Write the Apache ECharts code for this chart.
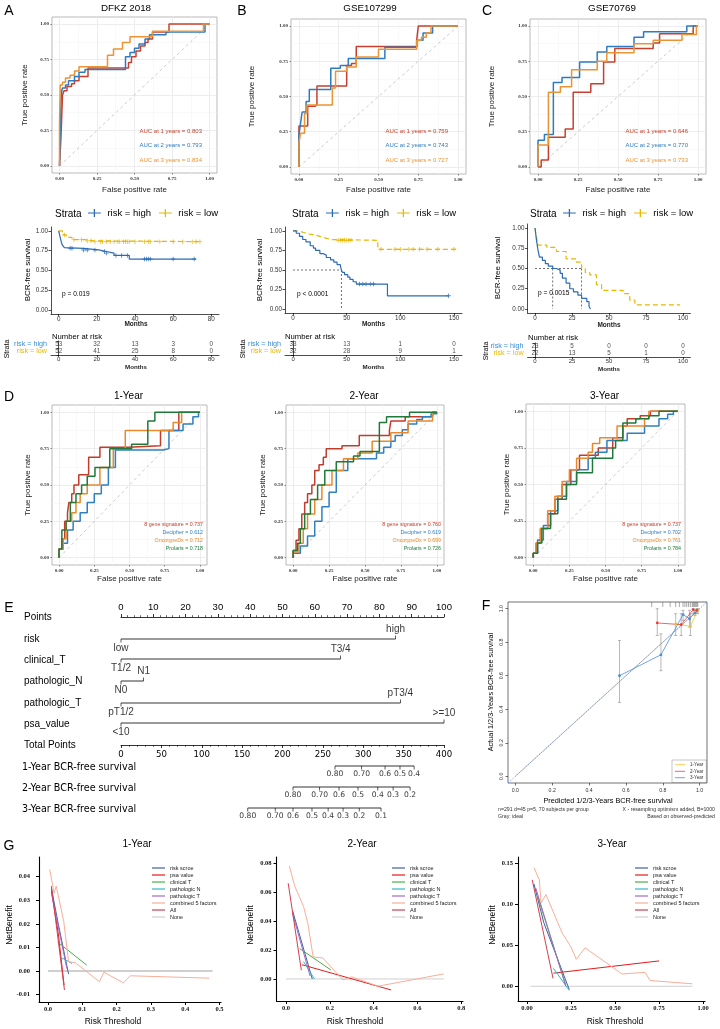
<!DOCTYPE html>
<html>
<head>
<meta charset="utf-8">
<title>Figure</title>
<script src="https://cdn.jsdelivr.net/npm/echarts@6.0.0/dist/echarts.min.js"></script>
<style>
html,body{margin:0;padding:0;background:#fff;}
#chart{width:720px;height:1029px;}
</style>
</head>
<body>
<div id="chart"></div>
<script>
/* ======================= DATA ======================= */
// A–C: time-dependent ROC curves, [FPR, TPR after each step]
const rocDFKZ_1y = [[0,0],[0.01,0.21],[0.02,0.5],[0.03,0.53],[0.05,0.56],[0.08,0.58],[0.1,0.6],[0.13,0.63],[0.19,0.69],[0.46,0.73],[0.48,0.77],[0.51,0.81],[0.54,0.845],[0.57,0.87],[0.59,0.895],[0.62,0.945],[0.73,1],[1,1]];
const rocDFKZ_2y = [[0,0],[0.01,0.45],[0.015,0.53],[0.02,0.55],[0.04,0.57],[0.06,0.6],[0.1,0.63],[0.13,0.66],[0.17,0.68],[0.44,0.77],[0.47,0.8],[0.5,0.83],[0.53,0.86],[0.57,0.895],[0.6,0.925],[0.71,0.945],[0.97,1],[1,1]];
const rocDFKZ_3y = [[0,0],[0,0.3],[0.005,0.57],[0.02,0.59],[0.04,0.62],[0.07,0.64],[0.1,0.67],[0.13,0.7],[0.32,0.78],[0.36,0.825],[0.42,0.87],[0.47,0.91],[0.62,0.95],[0.96,1],[1,1]];
const rocGSE107299_1y = [[0,0],[0,0.29],[0.055,0.43],[0.1,0.44],[0.113,0.575],[0.3,0.72],[0.33,0.735],[0.36,0.855],[0.74,0.9],[0.75,1],[1,1]];
const rocGSE107299_2y = [[0,0],[0,0.23],[0.01,0.31],[0.02,0.39],[0.045,0.465],[0.065,0.55],[0.2,0.7],[0.26,0.72],[0.31,0.77],[0.54,0.85],[0.74,0.9],[0.78,0.95],[0.84,1],[1,1]];
const rocGSE107299_3y = [[0,0],[0,0.17],[0.01,0.24],[0.035,0.38],[0.05,0.44],[0.21,0.56],[0.23,0.68],[0.3,0.71],[0.36,0.78],[0.5,0.835],[0.74,0.9],[0.77,0.92],[0.8,0.95],[0.83,1],[1,1]];
const rocGSE70769_1y = [[0,0],[0.02,0.05],[0.065,0.21],[0.17,0.27],[0.22,0.53],[0.33,0.59],[0.41,0.745],[0.48,0.84],[0.72,0.88],[0.76,0.945],[0.97,1],[1,1]];
const rocGSE70769_2y = [[0,0],[0,0.19],[0.04,0.23],[0.096,0.6],[0.15,0.635],[0.26,0.745],[0.37,0.815],[0.43,0.855],[0.6,0.92],[0.66,0.96],[0.93,1],[1,1]];
const rocGSE70769_3y = [[0,0],[0,0.155],[0.065,0.53],[0.14,0.57],[0.21,0.69],[0.37,0.75],[0.43,0.81],[0.6,0.875],[0.72,0.9],[0.9,0.94],[0.99,1],[1,1]];
const aucDFKZ = [0.803, 0.793, 0.834];
const aucGSE107299 = [0.759, 0.743, 0.727];
const aucGSE70769 = [0.646, 0.770, 0.733];
const aucYears = [1, 2, 3];

// A–C: Kaplan–Meier curves, [month, survival after step]
const kmDFKZ_high = [[0,1],[1,0.9],[1.5,0.85],[2,0.82],[3,0.79],[4,0.78],[13,0.76],[21,0.74],[25,0.72],[29,0.69],[37,0.645],[72,0.645]];
const kmDFKZ_low = [[0,1],[2,0.95],[4,0.92],[7,0.89],[14,0.875],[18,0.865],[75,0.865]];
const censDFKZ_high = [6,7,13,15,19,24,25,30,33,36,45,46,47,48,60,71];
const censDFKZ_low = [3,8,12,15,17,19,22,23,25,27,29,31,32,34,35,36,37,40,45,47,48,53,60,65,70,72,74];
const kmGSE107299_high = [[0,1],[3,0.97],[6,0.93],[9,0.89],[12,0.86],[16,0.81],[19,0.78],[21,0.75],[25,0.71],[28,0.69],[31,0.66],[35,0.63],[38,0.6],[41,0.57],[44,0.545],[45,0.5],[46,0.47],[48,0.44],[51,0.41],[53,0.38],[56,0.35],[59,0.32],[88,0.17],[145,0.17]];
const kmGSE107299_low = [[0,1],[5,0.98],[10,0.96],[15,0.95],[20,0.93],[25,0.91],[30,0.89],[35,0.88],[79,0.765],[152,0.765]];
const censGSE107299_high = [62,65,68,72,75,145];
const censGSE107299_low = [42,44,46,48,50,52,54,82,95,100,108,112,118,125,135,150];
const kmGSE70769_high = [[0,1],[1,0.85],[2,0.73],[3,0.64],[5,0.6],[7,0.56],[9,0.53],[12,0.5],[14.5,0.48],[17,0.44],[18.5,0.38],[21,0.32],[23.5,0.25],[26,0.21],[29,0.17],[31.5,0.13],[35,0.09],[36.5,0.03],[37.5,0]];
const kmGSE70769_low = [[0,1],[1,0.89],[2,0.79],[8,0.76],[14.5,0.71],[21,0.62],[28,0.58],[31.5,0.5],[34,0.45],[37,0.42],[41.5,0.3],[45,0.23],[59.5,0.19],[64,0.11],[67.5,0.05],[98,0.05]];
const medianGSE107299 = [45];
const medianGSE70769 = [12, 31.5];
const pValues = ['p = 0.019', 'p < 0.0001', 'p = 0.0015'];

// Number at risk tables
const riskTimesDFKZ = [0,20,40,60,80];
const riskHighDFKZ = [53,32,13,3,0];
const riskLowDFKZ = [52,41,25,8,0];
const riskTimesGSE107299 = [0,50,100,150];
const riskHighGSE107299 = [33,13,1,0];
const riskLowGSE107299 = [32,28,9,1];
const riskTimesGSE70769 = [0,25,50,75,100];
const riskHighGSE70769 = [23,5,0,0,0];
const riskLowGSE70769 = [22,13,5,1,0];

// D: ROC comparison with commercial signatures
const d1Sig = [[0,0],[0,0.06],[0.02,0.13],[0.04,0.25],[0.06,0.31],[0.07,0.38],[0.09,0.44],[0.106,0.5],[0.14,0.57],[0.21,0.69],[0.29,0.76],[0.49,0.77],[0.72,0.875],[0.85,1],[1,1]];
const d1Decipher = [[0,0],[0,0.06],[0.03,0.1],[0.06,0.19],[0.1,0.25],[0.15,0.31],[0.2,0.38],[0.25,0.44],[0.3,0.5],[0.35,0.62],[0.4,0.74],[0.74,0.75],[0.78,0.875],[0.88,0.92],[0.95,0.97],[0.99,1],[1,1]];
const d1Oncotype = [[0,0],[0,0.06],[0.03,0.13],[0.05,0.25],[0.09,0.31],[0.12,0.38],[0.15,0.44],[0.2,0.5],[0.29,0.62],[0.385,0.75],[0.47,0.875],[0.81,0.93],[0.87,1],[1,1]];
const d1Prolaris = [[0,0],[0,0.06],[0.02,0.19],[0.05,0.25],[0.08,0.38],[0.12,0.44],[0.16,0.5],[0.2,0.56],[0.255,0.62],[0.36,0.75],[0.515,0.78],[0.63,0.94],[0.68,1],[1,1]];
const d2Sig = [[0,0],[0,0.05],[0.02,0.12],[0.04,0.2],[0.06,0.3],[0.08,0.38],[0.1,0.44],[0.13,0.5],[0.15,0.6],[0.18,0.64],[0.21,0.69],[0.23,0.75],[0.34,0.77],[0.46,0.84],[0.67,0.875],[0.68,0.94],[0.78,0.97],[0.97,1],[1,1]];
const d2Decipher = [[0,0],[0,0.03],[0.05,0.08],[0.1,0.15],[0.15,0.25],[0.2,0.35],[0.25,0.45],[0.3,0.6],[0.38,0.68],[0.58,0.72],[0.63,0.76],[0.68,0.8],[0.71,0.84],[0.76,0.88],[0.8,0.92],[0.86,0.95],[0.9,0.97],[0.96,0.99],[1,1]];
const d2Oncotype = [[0,0],[0,0.04],[0.04,0.1],[0.07,0.2],[0.1,0.3],[0.15,0.4],[0.2,0.5],[0.27,0.6],[0.35,0.68],[0.45,0.72],[0.55,0.8],[0.68,0.86],[0.8,0.94],[0.97,1],[1,1]];
const d2Prolaris = [[0,0],[0,0.05],[0.03,0.1],[0.05,0.2],[0.08,0.3],[0.12,0.4],[0.17,0.5],[0.22,0.6],[0.3,0.66],[0.42,0.7],[0.465,0.73],[0.6,0.93],[0.65,0.97],[0.81,1],[1,1]];
const d3Sig = [[0,0],[0,0.03],[0.02,0.1],[0.05,0.2],[0.1,0.3],[0.15,0.4],[0.2,0.5],[0.26,0.6],[0.32,0.7],[0.45,0.75],[0.55,0.82],[0.62,0.9],[0.65,0.95],[0.74,0.97],[0.81,1],[1,1]];
const d3Decipher = [[0,0],[0,0.03],[0.03,0.12],[0.07,0.22],[0.12,0.32],[0.17,0.42],[0.23,0.52],[0.3,0.6],[0.38,0.68],[0.43,0.72],[0.51,0.8],[0.65,0.85],[0.77,0.9],[0.87,0.95],[0.93,0.98],[0.97,1],[1,1]];
const d3Oncotype = [[0,0],[0,0.03],[0.02,0.1],[0.05,0.2],[0.1,0.32],[0.15,0.42],[0.2,0.52],[0.25,0.6],[0.3,0.68],[0.38,0.72],[0.41,0.78],[0.46,0.82],[0.58,0.9],[0.77,0.95],[0.8,1],[1,1]];
const d3Prolaris = [[0,0],[0,0.03],[0.03,0.1],[0.06,0.2],[0.12,0.3],[0.17,0.4],[0.23,0.5],[0.3,0.58],[0.41,0.68],[0.55,0.75],[0.57,0.8],[0.62,0.92],[0.71,0.95],[0.8,0.97],[0.87,1],[1,1]];
const signatureNames = ['8 gene signature', 'Decipher', 'OncotypeDx', 'Prolaris'];
const aucD1 = [0.737, 0.612, 0.712, 0.718];
const aucD2 = [0.760, 0.619, 0.699, 0.726];
const aucD3 = [0.737, 0.702, 0.761, 0.784];

// E: nomogram
const nomoVarNames = ['risk', 'clinical_T', 'pathologic_N', 'pathologic_T', 'psa_value'];
const nomoRiskLevels = ['low', 'high'];          const nomoRiskPts = [0, 85];
const nomoClinTLevels = ['T1/2', 'T3/4'];        const nomoClinTPts = [0, 68];
const nomoPathNLevels = ['N0', 'N1'];            const nomoPathNPts = [0, 7];
const nomoPathTLevels = ['pT1/2', 'pT3/4'];      const nomoPathTPts = [0, 86.5];
const nomoPsaLevels = ['<10', '>=10'];           const nomoPsaPts = [0, 100];
const survNames = ['1-Year BCR-free survival', '2-Year BCR-free survival', '3-Year BCR-free survival'];
const surv1yLabels = ['0.80','0.70','0.6','0.5','0.4'];
const surv1yTotal = [265, 298, 327, 345.5, 363];
const surv2yLabels = ['0.80','0.70','0.6','0.5','0.4','0.3','0.2'];
const surv2yTotal = [213, 246, 270, 293.5, 318, 337, 358];
const surv3yLabels = ['0.80','0.70','0.6','0.5','0.4','0.3','0.2','0.1'];
const surv3yTotal = [157, 191, 213, 236.5, 256.5, 275, 295, 322];

// F: calibration
const cal1Pred = [0.87, 0.95, 0.99];            const cal1Obs = [0.91, 0.895, 0.99];
const cal1Lo = [0.84, 0.84, 0.97];              const cal1Hi = [0.97, 0.97, 1.0];
const cal2Pred = [0.77, 0.9, 0.965, 0.985];     const cal2Obs = [0.915, 0.905, 0.995, 0.99];
const cal2Lo = [0.84, 0.84, 0.97, 0.975];       const cal2Hi = [1.0, 0.97, 1.0, 1.0];
const cal3Pred = [0.565, 0.79, 0.91, 0.945, 0.975]; const cal3Obs = [0.60, 0.725, 0.965, 0.94, 0.975];
const cal3Lo = [0.44, 0.63, 0.93, 0.89, 0.96];  const cal3Hi = [0.81, 0.85, 0.99, 0.99, 0.99];
const calRug = [0.74,0.8,0.84,0.87,0.89,0.91,0.92,0.93,0.94,0.95,0.96,0.965,0.97,0.975,0.98,0.985,0.99];

// G: decision curves [threshold, net benefit]
const dcaNames = ['risk scroe','psa value','clinical T','pathologic N','pathologic T','combined 5 factors','All','None'];
const dca1Risk = [[0.01,0.035],[0.03,0.02],[0.06,-0.0013]];
const dca1Psa = [[0.01,0.034],[0.03,0.016],[0.047,-0.006]];
const dca1ClinT = [[0.028,0.0123],[0.113,0.0025]];
const dca1PathN = [[0.035,0.006],[0.07,0.0032]];
const dca1PathT = [[0.01,0.033],[0.055,0.001]];
const dca1Comb = [[0.005,0.043],[0.018,0.033],[0.024,0.036],[0.046,0.021],[0.06,0.004],[0.08,0.0035],[0.15,-0.0045],[0.163,-0.0005],[0.22,-0.005],[0.24,-0.002],[0.47,-0.003]];
const dca1All = [[0.01,0.036],[0.048,-0.008]];
const dca1None = [[0,0],[0.48,0]];
const dca2Risk = [[0.03,0.047],[0.12,0.0]];
const dca2Psa = [[0.073,0.0098],[0.48,-0.0076]];
const dca2ClinT = [[0.062,0.021],[0.205,0.0062]];
const dca2PathN = [[0.08,0.012],[0.13,0.0]];
const dca2PathT = [[0.03,0.045],[0.11,0.002]];
const dca2Comb = [[0.015,0.078],[0.04,0.064],[0.08,0.05],[0.1,0.038],[0.124,0.0152],[0.168,0.0145],[0.26,-0.0007],[0.3,0.0015],[0.42,-0.005],[0.72,0.0035]];
const dca2All = [[0.01,0.066],[0.07,0.006]];
const dca2None = [[0,0],[0.72,0]];
const dca3Risk = [[0.04,0.125],[0.095,0.078],[0.24,-0.004]];
const dca3Psa = [[0.15,0.016],[0.75,0.031]];
const dca3ClinT = [[0.06,0.11],[0.22,0.002]];
const dca3PathN = [[0.15,0.022],[0.24,-0.005]];
const dca3PathT = [[0.05,0.12],[0.22,0.0]];
const dca3Comb = [[0.04,0.145],[0.07,0.13],[0.08,0.102],[0.108,0.112],[0.2,0.065],[0.25,0.048],[0.28,0.033],[0.33,0.047],[0.54,0.015],[0.67,0.017],[0.7,0.007],[0.94,0.003]];
const dca3All = [[0.03,0.13],[0.148,0.0096]];
const dca3None = [[0.02,0],[0.94,0]];

/* ======================= BUILD ======================= */
const FS = 'Liberation Sans, Arial, sans-serif';
const SERIF = 'Liberation Serif, Times New Roman, serif';
const DJ = 'DejaVu Sans, sans-serif';
const ROC_COL = ['#c8402d', '#2c7bc4', '#eb9433'];
const D_COL = ['#c33b2b', '#2f7fc1', '#e8892e', '#1f7a3a'];
const KM_BLUE = '#2b6cb5', KM_YEL = '#e7b800';
const DCA_COL = ['#3f5fa8','#e41a1c','#4daf4a','#35b8c8','#a06cc4','#f9ae98','#d33f4f','#cfcfcf'];

const option = {animation:false, backgroundColor:'#fff', textStyle:{fontFamily:FS},
  grid:[], xAxis:[], yAxis:[], series:[], legend:[], graphic:[]};

function addGrid(l,t,r,b,extra){ option.grid.push(Object.assign({left:l, top:t, width:r-l, height:b-t, containLabel:false, outerBoundsMode:'none'}, extra||{})); return option.grid.length-1; }
function pushX(a){ option.xAxis.push(a); return option.xAxis.length-1; }
function pushY(a){ option.yAxis.push(a); return option.yAxis.length-1; }
function txt(text,x,y,o){ o=o||{}; option.graphic.push({type:'text', x:x, y:y, rotation:o.rot||0, silent:true, z:100,
  style:{text:text, fill:o.color||'#000', fontSize:o.size||10, fontFamily:o.font||FS, fontWeight:o.weight||'normal', align:o.align||'left', verticalAlign:o.valign||'middle'}}); }
function valAxis(gi,min,max,ticks,o){
  o=o||{};
  const ax = {type:'value', gridIndex:gi, min:min, max:max,
    axisLine:{show:!!o.line, onZero:false, lineStyle:{color:o.lineColor||'#000', width:o.lineWidth||0.8}},
    axisTick:{show:o.tick!==false, customValues:ticks, length:o.tickLen||2, inside:!!o.tickInside, lineStyle:{color:o.tickColor||'#333', width:o.tickWidth||0.7}},
    axisLabel:{show:o.label!==false, customValues:ticks, formatter:o.fmt||(v=>String(v)), fontSize:o.fs||6, fontFamily:o.ff||FS, fontWeight:o.fw||'normal', color:o.lc||'#333', margin:(o.margin===undefined?3:o.margin), rotate:o.rotate||0},
    splitLine:{show:!!o.split, lineStyle:{color:o.splitColor||'#e6e6e6', width:o.splitWidth||0.8}},
    minorTick:{show:false}, minorSplitLine:{show:false}};
  if (o.position) ax.position=o.position;
  return ax;
}
function line(xi,yi,data,color,o){
  o=o||{};
  const s = {type:'line', xAxisIndex:xi, yAxisIndex:yi, data:data, showSymbol:false, symbol:'none', silent:true,
    step:o.step||false, lineStyle:{color:color, width:o.width||1.2, type:o.dash||'solid', opacity:(o.opacity===undefined?1:o.opacity)},
    itemStyle:{color:color}, z:o.z||3, clip:false, animation:false};
  if (o.name) s.name=o.name;
  option.series.push(s);
}
function stepAt(curve,t){ let s=curve[0][1]; for (let i=0;i<curve.length;i++){ if(curve[i][0]<=t) s=curve[i][1]; else break; } return s; }

const maj4=[0,0.25,0.5,0.75,1], min4=[0.125,0.375,0.625,0.875];
function rocPanel(l,t,r,b,curves,colors){
  const gi = addGrid(l,t,r,b,{show:true, borderColor:'#a8a8a8', borderWidth:0.8, backgroundColor:'#fff'});
  const c = {fmt:v=>v.toFixed(2), fs:5, ff:SERIF, fw:'bold', lc:'#333', margin:3, tickLen:1.5, tickColor:'#555', split:true, splitColor:'#e8e8e8'};
  const mn = {label:false, tick:false, split:true, splitColor:'#f3f3f3', splitWidth:0.5};
  const xi = pushX(valAxis(gi,-0.05,1.05,maj4,c)); pushX(valAxis(gi,-0.05,1.05,min4,mn));
  const yi = pushY(valAxis(gi,-0.05,1.05,maj4,c)); pushY(valAxis(gi,-0.05,1.05,min4,mn));
  line(xi,yi,[[0,0],[1,1]],'#b5b5b5',{dash:[3,3],width:0.7,z:2});
  curves.forEach((cv,i)=>line(xi,yi,cv,colors[i],{step:'end',width:1.5}));
}

/* ---------- A–C ROC ---------- */
const rocFrames = [[52,17,217,173],[291,19,466,174],[530,19,706,174]];
const rocSets = [[rocDFKZ_1y,rocDFKZ_2y,rocDFKZ_3y],[rocGSE107299_1y,rocGSE107299_2y,rocGSE107299_3y],[rocGSE70769_1y,rocGSE70769_2y,rocGSE70769_3y]];
const rocAucs = [aucDFKZ, aucGSE107299, aucGSE70769];
const rocTitles = ['DFKZ 2018','GSE107299','GSE70769'];
const rocTitleX = [126, 370, 612];
const rocYT = [25, 252, 492];
const aucRight = [202, 448, 688];
rocFrames.forEach((f,k)=>{
  rocPanel(f[0],f[1],f[2],f[3],rocSets[k],ROC_COL);
  txt(rocTitles[k], rocTitleX[k], 8, {size:9.8, align:'center'});
  txt('False positive rate', (f[0]+f[2])/2, 190, {size:8, align:'center', color:'#222'});
  txt('True positive rate', rocYT[k], (f[1]+f[3])/2, {size:8, align:'center', rot:Math.PI/2, color:'#222'});
  rocAucs[k].forEach((a,i)=>txt('AUC at '+aucYears[i]+' years = '+a.toFixed(3), aucRight[k], [131,145.5,160][i], {size:6, align:'right', color:ROC_COL[i]}));
});
txt('A', 9, 11, {size:14, align:'center'});
txt('B', 242, 11, {size:14, align:'center'});
txt('C', 487, 11, {size:14, align:'center'});

/* ---------- A–C KM ---------- */
const crossPath = 'path://M2,0h1v2h2v1h-2v2h-1v-2h-2v-1h2z';
function kmPanel(c){
  const gi = addGrid(c.l,c.t,c.r,c.b);
  const xi = pushX(valAxis(gi,c.xmin,c.xmax,c.xticks,{line:true, lineWidth:0.7, tickLen:2.5, tickColor:'#000', fs:6.3, lc:'#333', margin:2}));
  const yi = pushY(valAxis(gi,-0.05,1.05,maj4,{line:true, lineWidth:0.7, tickLen:2.5, tickColor:'#000', fs:6.3, lc:'#333', margin:3, fmt:v=>v.toFixed(2)}));
  if (c.medians){
    const mx = Math.max.apply(null,c.medians);
    line(xi,yi,[[0,0.5],[mx,0.5]],'#333',{dash:[2,2],width:0.7,z:2});
    c.medians.forEach(m=>line(xi,yi,[[m,0.5],[m,0]],'#333',{dash:[2,2],width:0.7,z:2}));
  }
  line(xi,yi,c.low,KM_YEL,{step:'end',width:1.2,dash:[5,3],name:'risk = low'});
  line(xi,yi,c.high,KM_BLUE,{step:'end',width:1.2,name:'risk = high'});
  [[c.censHigh,c.high,KM_BLUE],[c.censLow,c.low,KM_YEL]].forEach(p=>{
    if(!p[0]) return;
    option.series.push({type:'scatter', xAxisIndex:xi, yAxisIndex:yi, silent:true, symbol:crossPath, symbolSize:4.5,
      itemStyle:{color:p[2]}, z:4, data:p[0].map(t=>[t,stepAt(p[1],t)])});
  });
}
kmPanel({l:51,r:219,t:227,b:314,xmin:-4,xmax:84,xticks:[0,20,40,60,80],high:kmDFKZ_high,low:kmDFKZ_low,censHigh:censDFKZ_high,censLow:censDFKZ_low});
kmPanel({l:285,r:462,t:227,b:313,xmin:-7.5,xmax:157.5,xticks:[0,50,100,150],high:kmGSE107299_high,low:kmGSE107299_low,censHigh:censGSE107299_high,censLow:censGSE107299_low,medians:medianGSE107299});
kmPanel({l:527.6,r:690.4,t:224,b:313,xmin:-5,xmax:105,xticks:[0,25,50,75,100],high:kmGSE70769_high,low:kmGSE70769_low,medians:medianGSE70769});

const legIcon = 'path://M0,4.4h7.2v-4.4h1.6v4.4h7.2v1.2h-7.2v4.4h-1.6v-4.4h-7.2z';
[[55,88],[292,326],[530,563]].forEach(p=>{
  txt('Strata', p[0], 214, {size:10});
  option.legend.push({left:p[1], top:208, orient:'horizontal', data:['risk = high','risk = low'], icon:legIcon,
    itemWidth:16, itemHeight:8, itemGap:8, padding:0, selectedMode:false, textStyle:{fontSize:9.5, color:'#000', fontFamily:FS}});
});
[[28,270],[260,270],[498,268]].forEach(p=>txt('BCR-free survival', p[0], p[1], {size:8, align:'center', rot:Math.PI/2}));
[[136,324],[373.5,324],[609,325]].forEach(p=>txt('Months', p[0], p[1], {size:6.5, align:'center', weight:'bold', color:'#222'}));
[[62,294],[297,294],[538,293]].forEach((p,i)=>txt(pValues[i], p[0], p[1], {size:6.6}));

/* ---------- Number at risk tables ---------- */
function riskTable(l,r,t,b,xmin,xmax,times,high,low){
  const gi = addGrid(l,t,r,b);
  const xi = pushX(valAxis(gi,xmin,xmax,times,{line:true, lineWidth:0.7, tickLen:2, tickColor:'#000', fs:6, lc:'#333', margin:1}));
  const yi = pushY({type:'category', gridIndex:gi, data:['risk = low','risk = high'],
    axisLine:{show:true, lineStyle:{color:'#000', width:0.7}}, axisTick:{show:true, length:2, interval:0, lineStyle:{color:'#000',width:0.7}},
    axisLabel:{show:true, interval:0, hideOverlap:false, fontSize:7.2, fontFamily:FS, margin:4, color:(v)=> v==='risk = high' ? '#3a8fd8' : KM_YEL}, splitLine:{show:false}});
  const rows = [['risk = high',high],['risk = low',low]];
  rows.forEach(rw=>{
    option.series.push({type:'scatter', xAxisIndex:xi, yAxisIndex:yi, silent:true, symbolSize:0.1, itemStyle:{color:'rgba(0,0,0,0)'}, z:5,
      labelLayout:{hideOverlap:false},
      label:{show:true, position:'inside', formatter:p=>String(p.value[2]), fontSize:6.3, color:'#222', fontFamily:FS},
      data: times.map((tm,i)=>[tm, rw[0], rw[1][i]])});
  });
}
riskTable(51,219,341,355,-4,84,riskTimesDFKZ,riskHighDFKZ,riskLowDFKZ);
riskTable(285,462,341,355,-7.5,157.5,riskTimesGSE107299,riskHighGSE107299,riskLowGSE107299);
riskTable(527.6,690.4,343,357,-5,105,riskTimesGSE70769,riskHighGSE70769,riskLowGSE70769);
[[52,337],[285,337],[528,338]].forEach(p=>txt('Number at risk', p[0], p[1], {size:7.7}));
[[7,349],[243,349],[486,351]].forEach(p=>txt('Strata', p[0], p[1], {size:7, align:'center', rot:Math.PI/2}));
[[136,367],[373.5,367],[609,369]].forEach(p=>txt('Months', p[0], p[1], {size:6.2, align:'center', weight:'bold', color:'#222'}));

/* ---------- D ROC ---------- */
const dFrames = [[52,405,207,565],[286,405,444,565],[526,404,685,565]];
const dSets = [[d1Sig,d1Decipher,d1Oncotype,d1Prolaris],[d2Sig,d2Decipher,d2Oncotype,d2Prolaris],[d3Sig,d3Decipher,d3Oncotype,d3Prolaris]];
const dAucs = [aucD1, aucD2, aucD3];
const dTitles = ['1-Year','2-Year','3-Year'];
const dYT = [28, 263, 507];
const dRight = [203, 441, 681];
dFrames.forEach((f,k)=>{
  rocPanel(f[0],f[1],f[2],f[3],dSets[k],D_COL);
  txt(dTitles[k], (f[0]+f[2])/2-1, 396, {size:10, align:'center'});
  txt('False positive rate', (f[0]+f[2])/2, 579, {size:8, align:'center', color:'#222'});
  txt('True positive rate', dYT[k], (f[1]+f[3])/2, {size:8, align:'center', rot:Math.PI/2, color:'#222'});
  dAucs[k].forEach((a,i)=>txt(signatureNames[i]+' = '+a.toFixed(3), dRight[k], 525+i*8, {size:5.3, align:'right', color:D_COL[i]}));
});
txt('D', 9, 397, {size:14, align:'center'});

/* ---------- E nomogram ---------- */
const NL=121, NR=444;
const gNT = addGrid(NL,617,NR,723);
const xNT = pushX({type:'value', gridIndex:gNT, position:'top', min:0, max:100, interval:10,
  axisLine:{show:true, onZero:false, lineStyle:{color:'#000', width:0.8}},
  axisTick:{show:true, length:3, lineStyle:{color:'#000', width:0.8}},
  minorTick:{show:true, splitNumber:5, length:1.8, lineStyle:{color:'#000', width:0.6}},
  axisLabel:{fontSize:9.5, color:'#000', margin:5, fontFamily:FS}, splitLine:{show:false}});
const yNT = pushY({type:'value', gridIndex:gNT, min:0, max:106, inverse:true, show:false});
function nomoRow(xi,yi,yoff,pts,labels,alt,fs,font){
  line(xi,yi,[[pts[0],yoff],[pts[pts.length-1],yoff]],'#000',{width:0.8});
  option.series.push({type:'scatter', xAxisIndex:xi, yAxisIndex:yi, silent:true, symbol:'rect', symbolSize:[0.8,3.5], itemStyle:{color:'#000'}, z:5,
    labelLayout:{hideOverlap:false},
    label:{show:true, formatter:p=>labels[p.dataIndex], fontSize:fs, fontFamily:font, color:'#000'},
    data: pts.map((p,i)=>{ const up = alt && i%2===1;
      return {value:[p,yoff], symbolOffset:[0, up?-1.75:1.75], label:{position: up?'top':'bottom', distance: up?1.5:0.5}}; })});
}
const nomoRowOff = [22, 42, 64, 86, 106];
const nomoPts = [nomoRiskPts, nomoClinTPts, nomoPathNPts, nomoPathTPts, nomoPsaPts];
const nomoLv = [nomoRiskLevels, nomoClinTLevels, nomoPathNLevels, nomoPathTLevels, nomoPsaLevels];
nomoPts.forEach((p,i)=>nomoRow(xNT,yNT,nomoRowOff[i],p,nomoLv[i],true,10,FS));

const gNB = addGrid(NL,745,NR,809);
const xNB = pushX({type:'value', gridIndex:gNB, position:'top', min:0, max:400, interval:50,
  axisLine:{show:true, onZero:false, lineStyle:{color:'#000', width:0.8}},
  axisTick:{show:true, inside:true, length:3, lineStyle:{color:'#000', width:0.8}},
  minorTick:{show:true, splitNumber:5, length:1.8, lineStyle:{color:'#000', width:0.6}},
  axisLabel:{inside:true, fontSize:8.6, color:'#000', margin:5, fontFamily:DJ}, splitLine:{show:false}});
const yNB = pushY({type:'value', gridIndex:gNB, min:0, max:64, inverse:true, show:false});
const survRowOff = [21, 42, 63];
[[surv1yTotal,surv1yLabels],[surv2yTotal,surv2yLabels],[surv3yTotal,surv3yLabels]].forEach((s,i)=>nomoRow(xNB,yNB,survRowOff[i],s[0],s[1],false,7.6,DJ));

txt('E', 9, 608, {size:14, align:'center'});
const nomoLabelY = [617, 639, 660, 681, 703, 724, 745];
['Points'].concat(nomoVarNames).concat(['Total Points']).forEach((n,i)=>txt(n, 24, nomoLabelY[i], {size:10}));
survNames.forEach((n,i)=>txt(n, 22, [767,788,809][i], {size:9.6, font:DJ}));

/* ---------- F calibration ---------- */
const gF = addGrid(508,602,707,783,{show:true, borderColor:'#333', borderWidth:0.7, backgroundColor:'#fff'});
const calTicks=[0,0.2,0.4,0.6,0.8,1.0];
const xF = pushX(valAxis(gF,-0.04,1.04,calTicks,{tickLen:2.5, tickColor:'#333', fs:5.2, lc:'#333', margin:5, fmt:v=>v.toFixed(1)}));
const yF = pushY(valAxis(gF,-0.04,1.04,calTicks,{tickLen:2.5, tickColor:'#333', fs:5.2, lc:'#333', margin:4, fmt:v=>v.toFixed(1), rotate:90}));
line(xF,yF,[[0,0],[1,1]],'#aaaaaa',{width:0.7,z:2});
line(xF,yF,[[-0.04,-0.04],[1.04,1.04]],'#6d8fd8',{width:0.8,dash:[1.5,1.5],z:2});
function errBars(pred,lo,hi){
  option.series.push({type:'custom', xAxisIndex:xF, yAxisIndex:yF, silent:true, z:3,
    data: pred.map((p,i)=>[p,lo[i],hi[i]]),
    renderItem:(params,api)=>{ const a=api.coord([api.value(0),api.value(1)]), b=api.coord([api.value(0),api.value(2)]);
      const st={stroke:'#8a8a8a', lineWidth:0.6};
      return {type:'group', children:[
        {type:'line', shape:{x1:a[0],y1:a[1],x2:b[0],y2:b[1]}, style:st},
        {type:'line', shape:{x1:a[0]-1.5,y1:a[1],x2:a[0]+1.5,y2:a[1]}, style:st},
        {type:'line', shape:{x1:b[0]-1.5,y1:b[1],x2:b[0]+1.5,y2:b[1]}, style:st}]}; }});
}
errBars(cal1Pred,cal1Lo,cal1Hi); errBars(cal2Pred,cal2Lo,cal2Hi); errBars(cal3Pred,cal3Lo,cal3Hi);
[[cal1Pred,cal1Obs,'#f0c030','1-Year'],[cal2Pred,cal2Obs,'#e84040','2-Year'],[cal3Pred,cal3Obs,'#4a90d9','3-Year']].forEach(c=>{
  option.series.push({type:'line', name:c[3], xAxisIndex:xF, yAxisIndex:yF, silent:true, z:4,
    data:c[0].map((p,i)=>[p,c[1][i]]), showSymbol:true, symbol:'circle', symbolSize:2.8,
    lineStyle:{color:c[2], width:0.8}, itemStyle:{color:c[2]}});
});
option.series.push({type:'custom', xAxisIndex:xF, yAxisIndex:yF, silent:true, z:3, data:calRug.map(v=>[v]),
  renderItem:(params,api)=>{ const a=api.coord([api.value(0),1.04]); return {type:'line', shape:{x1:a[0],y1:a[1],x2:a[0],y2:a[1]+5}, style:{stroke:'#555', lineWidth:0.5}}; }});
option.legend.push({left:672, top:760, orient:'vertical', data:['1-Year','2-Year','3-Year'], icon:'rect', itemWidth:10, itemHeight:0.8,
  itemGap:1, padding:[2,3,2,3], borderColor:'#888', borderWidth:0.5, selectedMode:false, textStyle:{fontSize:4.6, color:'#333', lineHeight:5.5}});
txt('F', 486, 606, {size:14, align:'center'});
txt('Predicted 1/2/3-Years BCR-free survival', 608, 801, {size:7.3, align:'center'});
txt('Actual 1/2/3-Years BCR-free survival', 491, 692, {size:7.3, align:'center', rot:Math.PI/2});
txt('n=291 d=45 p=5, 70 subjects per group', 498, 810, {size:5.2, color:'#333'});
txt('Gray: ideal', 498, 817, {size:5.2, color:'#333'});
txt('X - resampling optimism added, B=1000', 715, 810, {size:5.2, color:'#333', align:'right'});
txt('Based on observed-predicted', 715, 817, {size:5.2, color:'#333', align:'right'});

/* ---------- G decision curves ---------- */
function dcaPanel(c){
  const gi = addGrid(c.l,c.t,c.r,c.b);
  const st = {line:true, lineWidth:1.1, lineColor:'#000', tickLen:3, tickColor:'#000', tickWidth:1, fs:6.5, ff:SERIF, fw:'bold', lc:'#111', margin:4};
  const xi = pushX(valAxis(gi,c.xmin,c.xmax,c.xt,Object.assign({fmt:c.xfmt},st)));
  const yi = pushY(valAxis(gi,c.ymin,c.ymax,c.yt,Object.assign({fmt:c.yfmt},st,{margin:c.ym})));
  c.curves.forEach((cv,i)=>line(xi,yi,cv,DCA_COL[i],{name:dcaNames[i], width:(i===7?c.noneW:1), z:(i===7?2:3+ (i===6?1:0))}));
  option.legend.push({left:c.legX, top:864.5, orient:'vertical', data:dcaNames, icon:'rect', itemWidth:13, itemHeight:1.2, itemGap:0,
    padding:0, selectedMode:false, textStyle:{fontSize:5.5, color:'#222', lineHeight:7, fontFamily:FS}});
}
const f1=v=>v.toFixed(1), f2=v=>v.toFixed(2);
dcaPanel({l:39,t:857,r:221,b:1002,xmin:-0.0262,xmax:0.5044,xt:[0,0.1,0.2,0.3,0.4,0.5],xfmt:f1,ymin:-0.0131,ymax:0.0483,yt:[-0.01,0,0.01,0.02,0.03,0.04],yfmt:f2,ym:9,
  curves:[dca1Risk,dca1Psa,dca1ClinT,dca1PathN,dca1PathT,dca1Comb,dca1All,dca1None], noneW:2, legX:152});
dcaPanel({l:276.5,t:857,r:463,b:1001,xmin:-0.0434,xmax:0.808,xt:[0,0.2,0.4,0.6,0.8],xfmt:f1,ymin:-0.0152,ymax:0.0841,yt:[0,0.02,0.04,0.06,0.08],yfmt:f2,ym:5,
  curves:[dca2Risk,dca2Psa,dca2ClinT,dca2PathN,dca2PathT,dca2Comb,dca2All,dca2None], noneW:1, legX:392});
dcaPanel({l:518,t:857,r:705,b:1001,xmin:-0.051,xmax:1.011,xt:[0,0.25,0.5,0.75,1],xfmt:f2,ymin:-0.018,ymax:0.158,yt:[0,0.05,0.1,0.15],yfmt:f2,ym:5,
  curves:[dca3Risk,dca3Psa,dca3ClinT,dca3PathN,dca3PathT,dca3Comb,dca3All,dca3None], noneW:1, legX:635});
txt('G', 9, 846, {size:14, align:'center'});
[[137,'1-Year'],[362,'2-Year'],[612,'3-Year']].forEach(p=>txt(p[1], p[0], 844, {size:10, align:'center'}));
[[113,1022],[355,1022],[615,1022]].forEach(p=>txt('Risk Threshold', p[0], p[1], {size:8.5, align:'center'}));
[[10,925],[251,925],[493,925]].forEach(p=>txt('NetBenefit', p[0], p[1], {size:8.5, align:'center', rot:Math.PI/2}));

const chart = echarts.init(document.getElementById('chart'), null, {renderer:'canvas', width:720, height:1029});
chart.setOption(option);
</script>
</body>
</html>
